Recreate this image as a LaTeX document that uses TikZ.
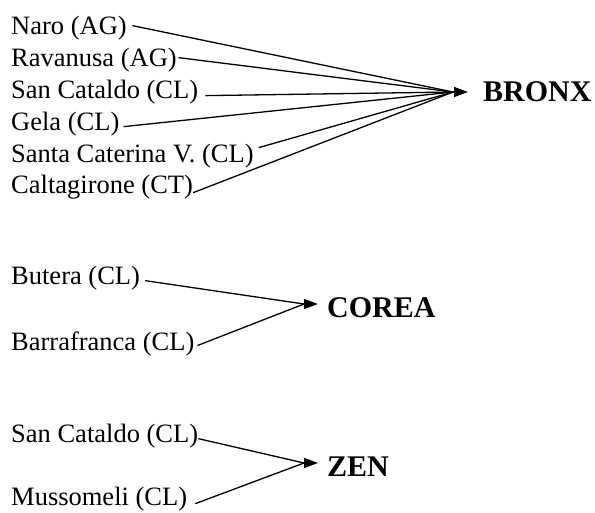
\documentclass[tikz,border=0pt]{standalone}
\usepackage{fontspec}
\setmainfont{Liberation Serif}
\usetikzlibrary{arrows.meta}
\begin{document}
\begin{tikzpicture}[x=1pt,y=-1pt,
  src/.style={anchor=base west,inner sep=0pt,font=\fontsize{26.5}{30}\selectfont},
  tgt/.style={anchor=west,inner sep=0pt,font=\fontsize{30}{34}\selectfont\bfseries},
  conn/.style={line width=1.3pt},
  arr/.style={line width=1.3pt,-{Triangle[length=14pt,width=10pt]}}]
\useasboundingbox (0,0) rectangle (595,512);
% sources
\node[src] (naro) at (11,34) {Naro (AG)};
\node[src] (rava) at (11,66) {Ravanusa (AG)};
\node[src] (sanc1) at (11,98) {San Cataldo (CL)};
\node[src] (gela) at (11,130) {Gela (CL)};
\node[src] (santa) at (11,162) {Santa Caterina V. (CL)};
\node[src] (calt) at (11,193) {Caltagirone (CT)};
\node[src] (butera) at (11,284) {Butera (CL)};
\node[src] (barra) at (11,350) {Barrafranca (CL)};
\node[src] (sanc2) at (11,442) {San Cataldo (CL)};
\node[src] (musso) at (11,505) {Mussomeli (CL)};
% targets
\node[tgt] (bronx) at (483,92) {BRONX};
\node[tgt] (corea) at (327,308) {COREA};
\node[tgt] (zen) at (327,467) {ZEN};
% convergence points
\coordinate (cb) at (453,92);
\coordinate (cc) at (304,304);
\coordinate (cz) at (304,463);
% connectors
\draw[conn] ([xshift=5.5pt,yshift=2pt]naro.east) -- (cb);
\draw[conn] ([xshift=1.5pt,yshift=2pt]rava.east) -- (cb);
\draw[conn] ([xshift=7pt,yshift=-4pt]sanc1.east) -- (cb);
\draw[conn] ([xshift=4pt,yshift=-3pt]gela.east) -- (cb);
\draw[conn] ([xshift=5pt,yshift=8pt]santa.east) -- (cb);
\draw[conn] ([xshift=0pt,yshift=-6pt]calt.east) -- (cb);
\draw[arr,shorten >=15pt] (cb) -- (bronx.west);
\draw[conn] ([xshift=5pt,yshift=-3pt]butera.east) -- (cc);
\draw[conn] ([xshift=3pt,yshift=-2pt]barra.east) -- (cc);
\draw[arr,shorten >=9pt] (cc) -- ([yshift=4pt]corea.west);
\draw[conn] ([xshift=0pt,yshift=-3pt]sanc2.east) -- (cz);
\draw[conn] ([xshift=8pt,yshift=-5pt]musso.east) -- (cz);
\draw[arr,shorten >=9pt] (cz) -- ([yshift=4pt]zen.west);
\end{tikzpicture}
\end{document}
